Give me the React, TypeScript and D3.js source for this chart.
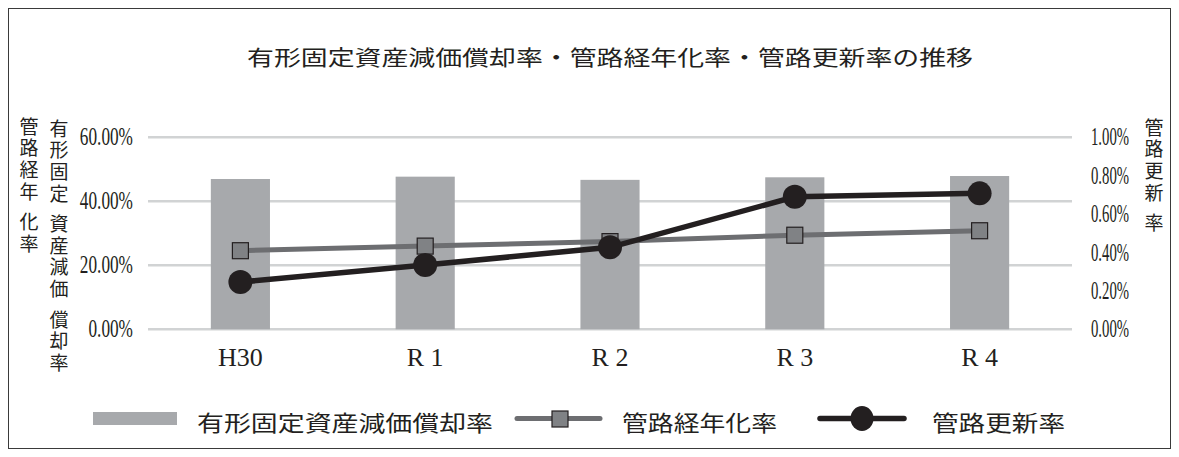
import React from "react";
import * as d3 from "d3";

const categories = ["H30", "R 1", "R 2", "R 3", "R 4"];
const depreciation = [46.97, 47.7, 46.7, 47.5, 47.9];
const aging = [24.56, 26.0, 27.4, 29.4, 30.8];
const renewal = [0.246, 0.335, 0.427, 0.69, 0.708];
const leftTicks = [0, 20, 40, 60];
const rightTicks = [0, 0.2, 0.4, 0.6, 0.8, 1.0];

const title = "有形固定資産減価償却率・管路経年化率・管路更新率の推移";
const leftTitle1 = ["管路経年", "化率"];
const leftTitle2 = ["有形固定", "資産減価", "償却率"];
const rightTitle = ["管路更新", "率"];
const legendLabels = ["有形固定資産減価償却率", "管路経年化率", "管路更新率"];

const CJK = "'Noto Sans CJK JP', 'Noto Sans', sans-serif";
const SERIF = "'Liberation Serif', 'DejaVu Serif', serif";

const W = 1179;
const H = 457;
const X0 = 148;
const X1 = 1072;
const Y0 = 329.3;
const Y1 = 137.3;

const BAR = "#a7a9ac";
const GRID = "#d1d3d4";
const GRAYLINE = "#6d6e71";
const SQFILL = "#808285";
const BLACK = "#231f20";

function VerticalText({ x, y0, groups, size }: { x: number; y0: number; groups: string[]; size: number }) {
  const pitch = 21.6;
  const gpitch = 95.5;
  return (
    <g>
      {groups.map((g, gi) => (
        <text
          key={gi}
          x={x}
          y={y0 + gi * gpitch}
          textAnchor="start"
          fontFamily={CJK}
          fontSize={size}
          fill="#231f20"
          style={{ writingMode: "vertical-rl", letterSpacing: `${pitch - size}px` } as any}
        >
          {g}
        </text>
      ))}
    </g>
  );
}

export default function App() {
  const x = d3.scalePoint<string>().domain(categories).range([X0, X1]).padding(0.5);
  const step = x.step();
  const barW = step * 0.32;
  const yL = d3.scaleLinear().domain([0, 60]).range([Y0, Y1]);
  const yR = d3.scaleLinear().domain([0, 1]).range([Y0, Y1]);

  const agingLine = d3
    .line<number>()
    .x((_, i) => x(categories[i]) as number)
    .y((d) => yL(d));
  const renewalLine = d3
    .line<number>()
    .x((_, i) => x(categories[i]) as number)
    .y((d) => yR(d));

  return (
    <svg
      width={W}
      height={H}
      style={{ position: "absolute", left: 0, top: 0, background: "#fff" }}
    >
      <rect x={8.5} y={8.5} width={1162} height={440} fill="#fff" stroke="#3a3a3a" strokeWidth={1} />

      <text
        x={610}
        y={65}
        textAnchor="middle"
        fontFamily={CJK}
        fontSize={21}
        fill="#231f20"
        textLength={726}
        lengthAdjust="spacingAndGlyphs"
      >
        {title}
      </text>

      {/* gridlines */}
      {leftTicks.map((t) => (
        <line key={t} x1={X0} x2={X1} y1={yL(t)} y2={yL(t)} stroke={GRID} strokeWidth={2.5} />
      ))}

      {/* left tick labels */}
      {leftTicks.map((t) => (
        <g key={"l" + t} transform={`translate(133,${yL(t) + 8}) scale(0.69,1)`}>
          <text textAnchor="end" fontFamily={SERIF} fontSize={25} fill="#231f20">
            {t.toFixed(2) + "%"}
          </text>
        </g>
      ))}

      {/* right tick labels */}
      {rightTicks.map((t) => (
        <g key={"r" + t} transform={`translate(1091,${yR(t) + 8}) scale(0.59,1)`}>
          <text textAnchor="start" fontFamily={SERIF} fontSize={25} fill="#231f20">
            {t.toFixed(2) + "%"}
          </text>
        </g>
      ))}

      {/* axis titles */}
      <VerticalText x={29} y0={117} groups={leftTitle1} size={19} />
      <VerticalText x={59} y0={119} groups={leftTitle2} size={19} />
      <VerticalText x={1154} y0={118} groups={rightTitle} size={19} />

      {/* bars */}
      {depreciation.map((v, i) => (
        <rect
          key={"b" + i}
          x={(x(categories[i]) as number) - barW / 2}
          y={yL(v)}
          width={barW}
          height={Y0 - yL(v)}
          fill={BAR}
        />
      ))}

      {/* x labels */}
      {categories.map((c) => (
        <text
          key={"x" + c}
          x={x(c) as number}
          y={366}
          textAnchor="middle"
          fontFamily={SERIF}
          fontSize={26}
          fill="#231f20"
        >
          {c}
        </text>
      ))}

      {/* aging line */}
      <path d={agingLine(aging) || ""} fill="none" stroke={GRAYLINE} strokeWidth={5} />
      {aging.map((v, i) => (
        <rect
          key={"s" + i}
          x={(x(categories[i]) as number) - 8}
          y={yL(v) - 8}
          width={16}
          height={16}
          fill={SQFILL}
          stroke={BLACK}
          strokeWidth={1.2}
        />
      ))}

      {/* renewal line */}
      <path d={renewalLine(renewal) || ""} fill="none" stroke={BLACK} strokeWidth={5.5} />
      {renewal.map((v, i) => (
        <circle key={"c" + i} cx={x(categories[i]) as number} cy={yR(v)} r={12} fill={BLACK} />
      ))}

      {/* legend */}
      <rect x={93} y={412} width={84} height={13} fill={BAR} />
      <text
        x={197}
        y={431}
        fontFamily={CJK}
        fontSize={22}
        fill="#231f20"
        textLength={296}
        lengthAdjust="spacingAndGlyphs"
      >
        {legendLabels[0]}
      </text>

      <line x1={517} x2={600} y1={418.5} y2={418.5} stroke={GRAYLINE} strokeWidth={5} strokeLinecap="round" />
      <rect x={552} y={411} width={16} height={16} fill={SQFILL} stroke={BLACK} strokeWidth={1.2} />
      <text
        x={622}
        y={431}
        fontFamily={CJK}
        fontSize={22}
        fill="#231f20"
        textLength={155}
        lengthAdjust="spacingAndGlyphs"
      >
        {legendLabels[1]}
      </text>

      <line x1={820} x2={904} y1={418.5} y2={418.5} stroke={BLACK} strokeWidth={5.5} strokeLinecap="round" />
      <ellipse cx={862} cy={418.5} rx={11.5} ry={12.5} fill={BLACK} />
      <text
        x={932}
        y={431}
        fontFamily={CJK}
        fontSize={22}
        fill="#231f20"
        textLength={133}
        lengthAdjust="spacingAndGlyphs"
      >
        {legendLabels[2]}
      </text>
    </svg>
  );
}
